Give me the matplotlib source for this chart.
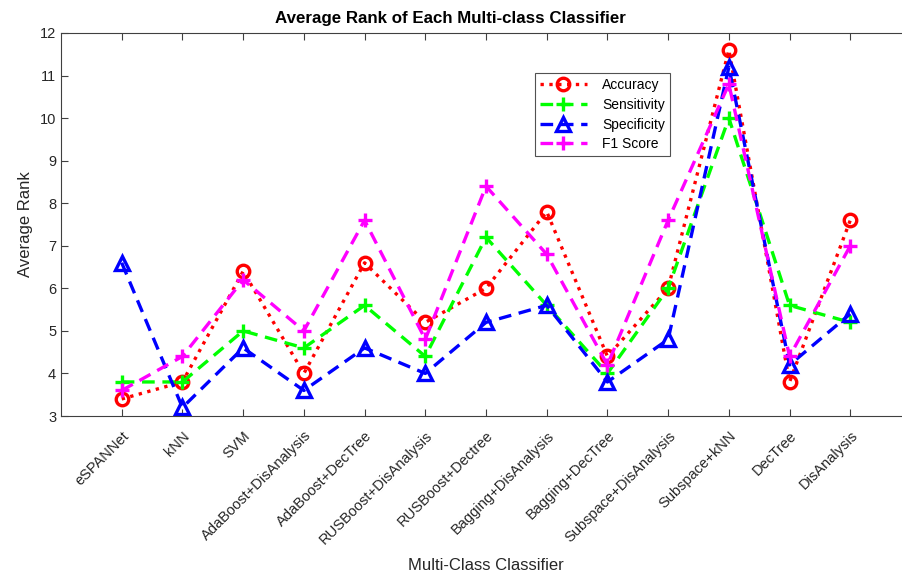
import matplotlib
matplotlib.use("Agg")
import matplotlib.pyplot as plt

plt.rcParams['font.family'] = ['Liberation Sans', 'DejaVu Sans']

classifiers = ["eSPANNet", "kNN", "SVM", "AdaBoost+DisAnalysis", "AdaBoost+DecTree",
               "RUSBoost+DisAnalysis", "RUSBoost+Dectree", "Bagging+DisAnalysis",
               "Bagging+DecTree", "Subspace+DisAnalysis", "Subspace+kNN", "DecTree",
               "DisAnalysis"]
accuracy = [3.4, 3.8, 6.4, 4.0, 6.6, 5.2, 6.0, 7.8, 4.4, 6.0, 11.6, 3.8, 7.6]
sensitivity = [3.8, 3.8, 5.0, 4.6, 5.6, 4.4, 7.2, 5.6, 4.0, 6.0, 10.0, 5.6, 5.2]
specificity = [6.6, 3.2, 4.6, 3.6, 4.6, 4.0, 5.2, 5.6, 3.8, 4.8, 11.2, 4.2, 5.4]
f1_score = [3.6, 4.4, 6.2, 5.0, 7.6, 4.8, 8.4, 6.8, 4.2, 7.6, 10.8, 4.4, 7.0]

x = list(range(1, len(classifiers) + 1))

fig = plt.figure(figsize=(9.02, 5.72), dpi=100)
ax = fig.add_axes([61 / 902, 156 / 572, 850 / 902, 383 / 572])
ax.patch.set_visible(False)

dash = (3.8, 2.3)
lw = 2.4
ax.plot(x, accuracy, ':', color='#ff0000', lw=lw, marker='o', ms=9, mfc='none',
        mew=2.4, label='Accuracy')
ax.plot(x, sensitivity, '--', color='#00ff00', lw=lw, dashes=dash, marker='+', ms=10,
        mew=2.4, label='Sensitivity')
ax.plot(x, specificity, '--', color='#0000ff', lw=lw, dashes=dash, marker='^', ms=10,
        mfc='none', mew=2.4, label='Specificity')
ax.plot(x, f1_score, '--', color='#ff00ff', lw=lw, dashes=dash, marker='+', ms=10,
        mew=2.4, label='F1 Score')

ax.set_xlim(0, 14)
ax.set_ylim(3, 12)
ax.set_xticks(x)
ax.set_xticklabels(classifiers, rotation=45, ha='right', rotation_mode='anchor',
                   fontsize=10.5, color='#262626')
ax.set_yticks(range(3, 13))
ax.tick_params(axis='y', labelsize=10.5, colors='#262626')
ax.tick_params(direction='in', top=True, right=False, length=5, color='#404040')
ax.tick_params(axis='x', pad=9)
ax.spines['right'].set_visible(False)
for name in ('left', 'top', 'bottom'):
    ax.spines[name].set_color('#404040')
    ax.spines[name].set_linewidth(0.8)

fig.text(450 / 902, 1 - 18 / 572, 'Average Rank of Each Multi-class Classifier',
         ha='center', va='center', fontsize=12.2, fontweight='bold')
ax.set_ylabel('Average Rank', fontsize=12, color='#262626', labelpad=5)
ax.set_xlabel('Multi-Class Classifier', fontsize=12, color='#262626', labelpad=8)

leg = ax.legend(loc='upper left', bbox_to_anchor=(535 / 902, 1 - 73 / 572),
                bbox_transform=fig.transFigure, borderaxespad=0, fontsize=10,
                frameon=True, fancybox=False, edgecolor='#262626', handlelength=3.4,
                handletextpad=1.1, borderpad=0.35, labelspacing=0.42)
leg.get_frame().set_linewidth(0.8)

fig.savefig('out.png', dpi=100)
